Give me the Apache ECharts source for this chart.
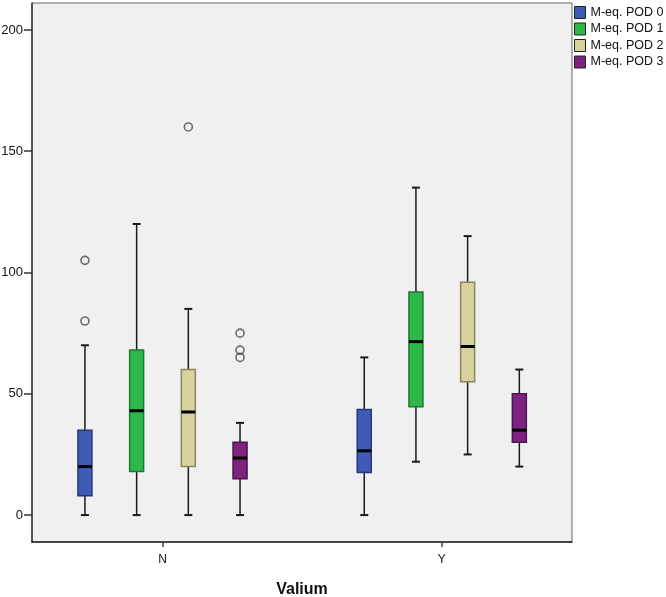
<!DOCTYPE html>
<html><head><meta charset="utf-8">
<script src="https://cdn.jsdelivr.net/npm/echarts@6/dist/echarts.min.js"></script>
<style>html,body{margin:0;padding:0;background:#fff}#c{width:666px;height:597px}</style>
</head><body><div id="c"></div>
<script>
// ---- data ----
const groups = ['N', 'Y'];
const podNames = ['M-eq. POD 0', 'M-eq. POD 1', 'M-eq. POD 2', 'M-eq. POD 3'];
// [min, Q1, median, Q3, max] for N and Y
const pod0 = [[0, 8, 20, 35, 70], [0, 17.5, 26.5, 43.5, 65]];
const pod1 = [[0, 18, 43, 68, 120], [22, 44.7, 71.5, 92, 135]];
const pod2 = [[0, 20, 42.5, 60, 85], [25, 55, 69.5, 96, 115]];
const pod3 = [[0, 15, 23.5, 30, 38], [20, 30, 35, 50, 60]];
// outliers: [group index, value]
const out0 = [[0, 105], [0, 80]];
const out1 = [];
const out2 = [[0, 160]];
const out3 = [[0, 75], [0, 68], [0, 65]];
const yTicks = [0, 50, 100, 150, 200];

// ---- styles / layout ----
const fills = ['#3E5BB5', '#2EB84A', '#D8D29C', '#7D2480'];
const strokes = ['#26387a', '#1c7a31', '#8a865c', '#4c1450'];
const podStep = 0.1851;     // spacing between pods inside a group (axis units)
const boxHalf = 7, capHalf = 4;
const FONT = 'Liberation Sans, Arial, sans-serif';

const pods = [pod0, pod1, pod2, pod3];
const outs = [out0, out1, out2, out3];
const podX = (g, k) => (g + 1) + (k - 1.5) * podStep;

function makeRender(k) {
  return function (params, api) {
    const x = api.value(0);
    const py = v => api.coord([x, v])[1];
    const cx = api.coord([x, 0])[0];
    const yMin = py(api.value(1)), yQ1 = py(api.value(2)), yMed = py(api.value(3)),
          yQ3 = py(api.value(4)), yMax = py(api.value(5));
    const ls = { stroke: '#1a1a1a', lineWidth: 1.5 };
    const cs = { stroke: '#1a1a1a', lineWidth: 2 };
    return {
      type: 'group',
      children: [
        { type: 'line', shape: { x1: cx, y1: yQ1, x2: cx, y2: yMin }, style: ls },
        { type: 'line', shape: { x1: cx, y1: yQ3, x2: cx, y2: yMax }, style: ls },
        { type: 'line', shape: { x1: cx - capHalf, y1: yMin, x2: cx + capHalf, y2: yMin }, style: cs },
        { type: 'line', shape: { x1: cx - capHalf, y1: yMax, x2: cx + capHalf, y2: yMax }, style: cs },
        { type: 'rect', shape: { x: cx - boxHalf, y: yQ3, width: boxHalf * 2, height: yQ1 - yQ3 },
          style: { fill: fills[k], stroke: strokes[k], lineWidth: 1.5 } },
        { type: 'line', shape: { x1: cx - boxHalf, y1: yMed, x2: cx + boxHalf, y2: yMed },
          style: { stroke: '#000', lineWidth: 3 } }
      ]
    };
  };
}

const series = [];
pods.forEach((p, k) => {
  series.push({
    name: podNames[k],
    type: 'custom',
    renderItem: makeRender(k),
    itemStyle: { color: fills[k] },
    encode: { x: 0, y: [1, 2, 3, 4, 5] },
    data: p.map((v, g) => [podX(g, k)].concat(v)),
    z: 3
  });
});
const outlierData = [];
outs.forEach((o, k) => o.forEach(d => outlierData.push([podX(d[0], k), d[1]])));
series.push({
  type: 'scatter',
  symbol: 'circle',
  symbolSize: 8,
  itemStyle: { color: 'rgba(0,0,0,0)', borderColor: '#4a4a4a', borderWidth: 1.6 },
  data: outlierData,
  z: 4
});

const chart = echarts.init(document.getElementById('c'), null, { renderer: 'canvas' });
chart.setOption({
  animation: false,
  backgroundColor: '#ffffff',
  textStyle: { fontFamily: FONT },
  grid: {
    left: 32, top: 3, width: 540, height: 539,
    containLabel: false, outerBoundsMode: 'none',
    show: true, backgroundColor: '#F0F0F0', borderColor: '#666', borderWidth: 1
  },
  legend: {
    orient: 'vertical', left: 574, top: 6, padding: 0,
    itemWidth: 11, itemHeight: 12, itemGap: 3.5,
    icon: 'rect',
    data: podNames,
    itemStyle: { borderColor: '#222', borderWidth: 1 },
    textStyle: { fontSize: 12.5, lineHeight: 12, color: '#111', fontFamily: FONT }
  },
  xAxis: {
    type: 'value',
    min: 0.5328, max: 2.4662,
    name: 'Valium', nameLocation: 'middle', nameGap: 40,
    nameTextStyle: { fontSize: 16, fontWeight: 'bold', color: '#111', fontFamily: FONT },
    axisLine: { show: true, onZero: false, lineStyle: { color: '#222', width: 1.5 } },
    axisTick: { show: true, length: 5, customValues: [1, 2], lineStyle: { color: '#444', width: 1.5 } },
    axisLabel: {
      customValues: [1, 2], margin: 12, fontSize: 12, color: '#111', fontFamily: FONT,
      formatter: v => groups[Math.round(v) - 1]
    },
    splitLine: { show: false }
  },
  yAxis: {
    type: 'value',
    min: -11.1, max: 211.1,
    axisLine: { show: true, onZero: false, lineStyle: { color: '#333', width: 1.5 } },
    axisTick: { show: true, length: 8, customValues: yTicks, lineStyle: { color: '#333', width: 1.5 } },
    axisLabel: { customValues: yTicks, margin: 9, fontSize: 13, color: '#111', fontFamily: FONT },
    splitLine: { show: false }
  },
  series: series
});
</script>
</body></html>
